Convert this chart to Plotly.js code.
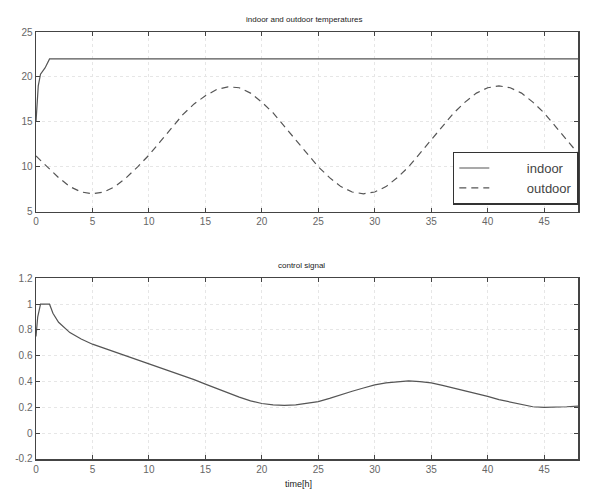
<!DOCTYPE html>
<html>
<head>
<meta charset="utf-8">
<script src="https://cdn.plot.ly/plotly-3.0.1.min.js"></script>
<style>html,body{margin:0;padding:0;background:#fff}#chart{width:591px;height:490px}</style>
</head>
<body>
<div id="chart"></div>
<script>
// Indoor temperature
const indoorTime = [0, 0.2, 0.4, 0.8, 1.2, 48];
const indoorTemp = [15, 19, 20.3, 21, 22, 22];
// Outdoor temperature (hourly)
const outdoorTime = [0,1,2,3,4,5,6,7,8,9,10,11,12,13,14,15,16,17,18,19,20,21,22,23,24,25,26,27,28,29,30,31,32,33,34,35,36,37,38,39,40,41,42,43,44,45,46,47,48];
const outdoorTemp = [11.2,10.0,8.8,7.8,7.2,7.0,7.2,7.8,8.8,10.0,11.3,12.8,14.3,15.8,17.0,17.9,18.6,18.9,18.8,18.2,17.2,16.0,14.5,13.0,11.5,10.0,8.8,7.8,7.2,7.0,7.2,7.8,8.8,10.0,11.5,13.0,14.5,16.0,17.2,18.2,18.8,19.0,18.8,18.2,17.2,16.0,14.5,13.0,11.5];
// Control signal
const controlTime = [0,0.15,0.4,1.2,1.5,2,3,4,5,6,7,8,9,10,11,12,13,14,15,16,17,18,19,20,21,22,23,24,25,26,27,28,29,30,31,32,33,34,35,36,37,38,39,40,41,42,43,44,45,46,47,48];
const controlValue = [0.75,0.9,1.0,1.0,0.93,0.86,0.78,0.73,0.69,0.66,0.63,0.60,0.57,0.54,0.51,0.48,0.45,0.415,0.38,0.345,0.31,0.28,0.25,0.23,0.22,0.215,0.22,0.23,0.245,0.27,0.30,0.325,0.35,0.375,0.39,0.40,0.405,0.40,0.39,0.37,0.35,0.33,0.31,0.285,0.26,0.24,0.22,0.205,0.2,0.2,0.205,0.21];

const xTicks = [0,5,10,15,20,25,30,35,40,45];
const topYTicks = [5,10,15,20,25];
const botYTicks = [-0.2,0,0.2,0.4,0.6,0.8,1,1.2];
const botYLabels = ['-0.2','0','0.2','0.4','0.6','0.8','1','1.2'];
const legendNames = ['\u00a0\u00a0\u00a0\u00a0\u00a0\u00a0\u00a0\u00a0\u00a0indoor', '\u00a0\u00a0\u00a0\u00a0\u00a0\u00a0\u00a0\u00a0\u00a0outdoor'];

const lineCol = '#555';
const traces = [
  {x: indoorTime, y: indoorTemp, mode: 'lines', name: legendNames[0], line: {color: lineCol, width: 1.2}, xaxis: 'x', yaxis: 'y'},
  {x: outdoorTime, y: outdoorTemp, mode: 'lines', name: legendNames[1], line: {color: lineCol, width: 1.2, dash: '7px,5px'}, xaxis: 'x', yaxis: 'y'},
  {x: controlTime, y: controlValue, mode: 'lines', name: 'control', showlegend: false, line: {color: lineCol, width: 1.2}, xaxis: 'x2', yaxis: 'y2'}
];

const tickFont = {family: 'Liberation Sans, Arial, sans-serif', size: 10, color: '#666'};
const axBase = {
  showline: true, linecolor: '#444', linewidth: 1.5, mirror: 'ticks',
  ticks: 'inside', ticklen: 4, tickcolor: '#444', tickwidth: 1,
  showgrid: true, gridcolor: '#e6e6e6', griddash: 'dot', gridwidth: 1,
  zeroline: false, tickfont: tickFont, fixedrange: true
};

const layout = {
  width: 591, height: 490,
  paper_bgcolor: '#fff', plot_bgcolor: '#fff',
  margin: {l: 36, r: 13, t: 32, b: 31},
  showlegend: true,
  legend: {
    x: 0.769, y: 0.72, xanchor: 'left', yanchor: 'top',
    bgcolor: '#fff', bordercolor: '#333', borderwidth: 1.5,
    font: {family: 'Liberation Sans, Arial, sans-serif', size: 13, color: '#444'},
    tracegroupgap: 0, itemwidth: 30
  },
  xaxis: Object.assign({}, axBase, {domain: [0, 1], range: [0, 48], tickvals: xTicks, anchor: 'y'}),
  yaxis: Object.assign({}, axBase, {domain: [0.579, 1], range: [5, 25], tickvals: topYTicks, anchor: 'x'}),
  xaxis2: Object.assign({}, axBase, {domain: [0, 1], range: [0, 48], tickvals: xTicks, anchor: 'y2'}),
  yaxis2: Object.assign({}, axBase, {domain: [0, 0.423], range: [-0.2, 1.2], tickvals: botYTicks, ticktext: botYLabels, anchor: 'x2'}),
  annotations: [
    {text: 'indoor and outdoor temperatures', xref: 'paper', yref: 'paper', x: 0.495, y: 1.0, yshift: 6, xanchor: 'center', yanchor: 'bottom', showarrow: false, font: {family: 'Liberation Sans, Arial, sans-serif', size: 8, color: '#222'}},
    {text: 'control signal', xref: 'paper', yref: 'paper', x: 0.49, y: 0.423, yshift: 6, xanchor: 'center', yanchor: 'bottom', showarrow: false, font: {family: 'Liberation Sans, Arial, sans-serif', size: 8, color: '#222'}},
    {text: 'time[h]', xref: 'paper', yref: 'paper', x: 0.485, y: 0, yshift: -18, xanchor: 'center', yanchor: 'top', showarrow: false, font: {family: 'Liberation Sans, Arial, sans-serif', size: 9, color: '#222'}}
  ]
};

Plotly.newPlot('chart', traces, layout, {displayModeBar: false, staticPlot: true});
</script>
</body>
</html>
